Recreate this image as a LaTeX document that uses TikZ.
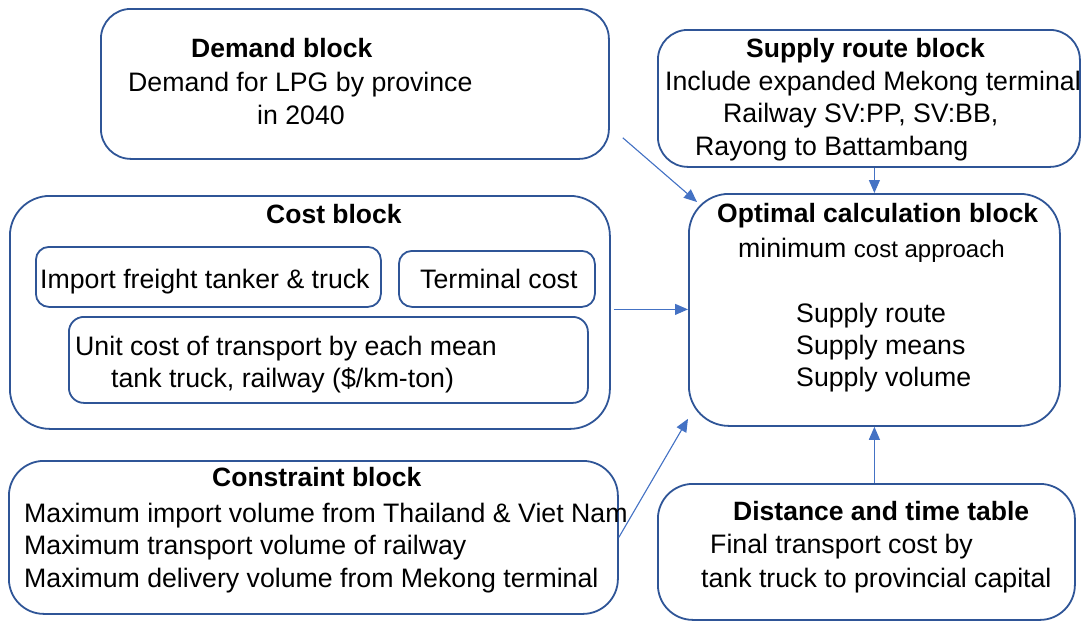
\documentclass[tikz,border=0pt]{standalone}
\usepackage{fontspec}
\setmainfont{Liberation Sans}
\usetikzlibrary{arrows.meta, calc}
\definecolor{edgeblue}{HTML}{2F5597}
\definecolor{linkblue}{HTML}{4472C4}
\tikzset{
  blk/.style = {
    draw=edgeblue, line width=1.8pt, anchor=north west, inner sep=0pt, fill=white
  },
  txt/.style = {anchor=base west, inner sep=0pt, font=\fontsize{26.7}{32}\selectfont},
  ttl/.style = {anchor=base west, inner sep=0pt, font=\fontsize{26.5}{32}\selectfont\bfseries},
  link/.style = {-{Triangle[length=13pt, width=11pt]}, draw=linkblue, fill=linkblue, line width=1.1pt},
}

\begin{document}
\begin{tikzpicture}[x=1pt, y=-1pt]
    \useasboundingbox (0,0) rectangle (1082,621);

    % Outer blocks
    \node[blk, rounded corners=30pt, minimum width=508pt, minimum height=150pt] (demand) at (100,8) {};
    \node[blk, rounded corners=30pt, minimum width=422pt, minimum height=137pt] (supply) at (657,29) {};
    \node[blk, rounded corners=40pt, minimum width=600pt, minimum height=233pt] (cost) at (9,195) {};
    \node[blk, rounded corners=40pt, minimum width=371pt, minimum height=232pt] (optimal) at (688,193) {};
    \node[blk, rounded corners=35pt, minimum width=609pt, minimum height=153pt] (constraint) at (8,460) {};
    \node[blk, rounded corners=35pt, minimum width=417pt, minimum height=136pt] (distance) at (657,483) {};

    % Inner boxes of the cost block
    \node[blk, rounded corners=13pt, minimum width=345pt, minimum height=60pt] (freight) at (35,246) {};
    \node[blk, rounded corners=13pt, minimum width=196pt, minimum height=56pt] (terminal) at (398,250) {};
    \node[blk, rounded corners=15pt, minimum width=519pt, minimum height=86pt] (unitcost) at (68,316) {};

    % Texts
    \node[ttl] (demandT) at (191,57) {Demand block};
    \node[txt] (demandA) at (128,91) {Demand for LPG by province};
    \node[txt] (demandB) at (257,124) {in 2040};

    \node[ttl] (supplyT) at (746,57) {Supply route block};
    \node[txt] (supplyA) at (665,90) {Include expanded Mekong terminal};
    \node[txt] (supplyB) at (723,122) {Railway SV:PP, SV:BB,};
    \node[txt] (supplyC) at (695,155) {Rayong to Battambang};

    \node[ttl] (costT) at (266,223) {Cost block};
    \node[txt] (freightT) at (40,288) {Import freight tanker \& truck};
    \node[txt] (terminalT) at (420,288) {Terminal cost};
    \node[txt] (unitA) at (75,355) {Unit cost of transport by each mean};
    \node[txt] (unitB) at (111,387) {tank truck, railway (\$/km-ton)};

    \node[ttl] (optimalT) at (717,222) {Optimal calculation block};
    \node[txt] (optimalA) at (738,257) {minimum {\fontsize{24}{32}\selectfont cost approach}};
    \node[txt] (optimalB) at (796,322) {Supply route};
    \node[txt] (optimalC) at (796,354) {Supply means};
    \node[txt] (optimalD) at (796,386) {Supply volume};

    \node[ttl] (constraintT) at (212,486) {Constraint block};
    \node[txt] (constraintA) at (24,522) {Maximum import volume from Thailand \& Viet Nam};
    \node[txt] (constraintB) at (24,554) {Maximum transport volume of railway};
    \node[txt] (constraintC) at (24,587) {Maximum delivery volume from Mekong terminal};

    \node[ttl] (distanceT) at (733,520) {Distance and time table};
    \node[txt] (distanceA) at (710,553) {Final transport cost by};
    \node[txt] (distanceB) at (701,587) {tank truck to provincial capital};

    % Connectors into the optimal calculation block
    \coordinate (demandTail) at ($(demand.south east)+(13,-22)$);
    \draw[link] (demandTail) -- ($(optimal.north west)+(9,9)$);
    \draw[link] (supply.south -| optimal.north) -- (optimal.north);
    \draw[link] ($(cost.east)+(3,-3)$) -- ($(cost.east -| optimal.west)+(0,-3)$);
    \draw[link] (constraint.east) -- ($(optimal.south west)+(0,-8)$);
    \draw[link] (distance.north -| optimal.south) -- (optimal.south);

  \end{tikzpicture}
\end{document}
